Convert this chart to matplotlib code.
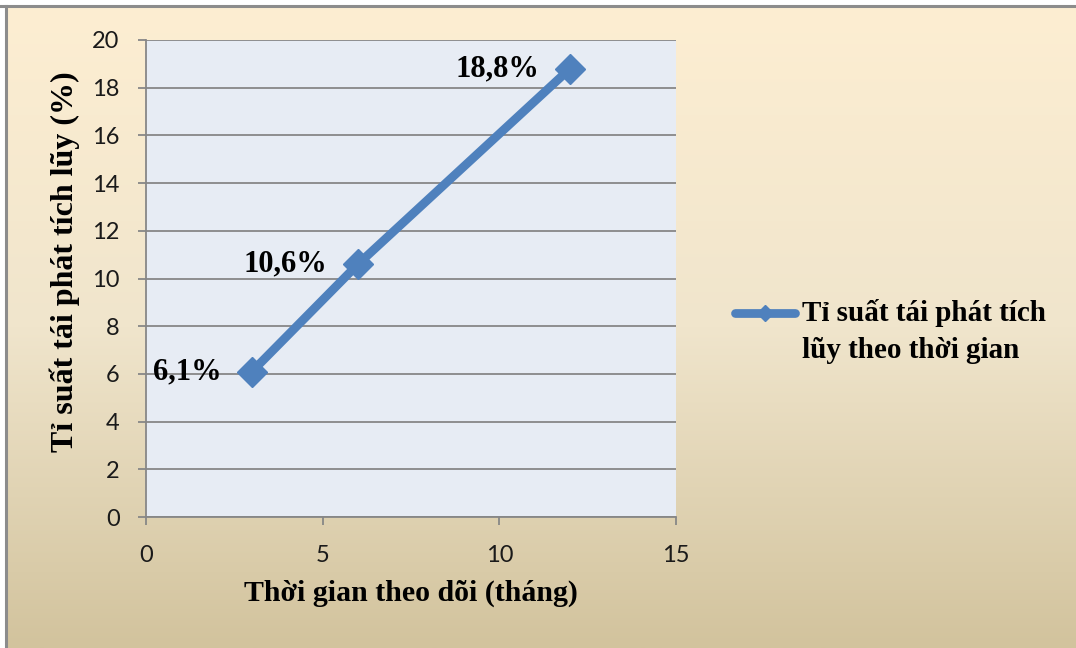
import numpy as np
import matplotlib
matplotlib.use("Agg")
import matplotlib.pyplot as plt
from matplotlib.colors import LinearSegmentedColormap

# Follow-up time (months) and cumulative recurrence rate (%)
months = [3, 6, 12]
rates = [6.1, 10.6, 18.8]
point_labels = ["6,1%", "10,6%", "18,8%"]
series_name = "Tỉ suất tái phát tích\nlũy theo thời gian"
x_ticks = [0, 5, 10, 15]
y_ticks = [0, 2, 4, 6, 8, 10, 12, 14, 16, 18, 20]

W, H = 1076, 648
fig = plt.figure(figsize=(W / 100, H / 100), dpi=100)
fig.patch.set_facecolor("white")

# Chart-area background: vertical cream-to-tan gradient with grey frame on top/left
bg = fig.add_axes([7 / W, 0, 1 - 7 / W, 1 - 7 / H])
grad = LinearSegmentedColormap.from_list("bg", ["#FDEED2", "#F0E5CC", "#D2C39D"])
bg.imshow(np.linspace(0, 1, 256).reshape(-1, 1), aspect="auto", cmap=grad,
          extent=[0, 1, 0, 1], origin="upper")
bg.set_axis_off()
fig.add_artist(plt.Line2D([0, 1], [1 - 6 / H, 1 - 6 / H], transform=fig.transFigure,
                          color="#8C8C8C", lw=2.2))
fig.add_artist(plt.Line2D([6 / W, 6 / W], [0, 1 - 6 / H], transform=fig.transFigure,
                          color="#8C8C8C", lw=2.2))

left, right, top, bottom = 146, 676, 40, 517
ax = fig.add_axes([left / W, 1 - bottom / H, (right - left) / W, (bottom - top) / H])
ax.set_facecolor("#E7ECF4")

serif = "Liberation Serif"
sans = "Lato"
blue = "#4F81BD"

ax.plot(months, rates, color=blue, lw=6.3, marker="D", markersize=15,
        markeredgecolor=blue, solid_capstyle="butt", zorder=3)

for x, y, lab in zip(months, rates, point_labels):
    ax.annotate(lab, (x, y), xytext=(-22, 0), textcoords="offset points",
                ha="right", va="center", fontsize=22, fontweight="bold",
                family=serif, color="black", zorder=4)

ax.set_xlim(0, 15)
ax.set_ylim(0, 20)
ax.set_xticks(x_ticks)
ax.set_yticks(y_ticks)
ax.yaxis.grid(True, color="#878787", lw=1.3)
ax.set_axisbelow(True)
for s in ["top", "right"]:
    ax.spines[s].set_visible(False)
for s in ["left", "bottom"]:
    ax.spines[s].set_color("#878787")
    ax.spines[s].set_linewidth(1.3)
ax.tick_params(axis="both", direction="out", length=6, width=1.3, color="#878787",
               labelsize=17, labelcolor="#1a1a1a")
ax.tick_params(axis="x", pad=14)
ax.tick_params(axis="y", pad=13)
for t in ax.get_xticklabels() + ax.get_yticklabels():
    t.set_family(sans)

ax.set_xlabel("Thời gian theo dõi (tháng)", family=serif, fontweight="bold",
              fontsize=21.5, labelpad=10)
ax.set_ylabel("Tỉ suất tái phát tích lũy (%)", family=serif, fontweight="bold",
              fontsize=23)
ax.yaxis.set_label_coords(-0.124, 0.535)

# Legend: series key aligned with the first line of a two-line label
key_y = 1 - 313 / H
fig.add_artist(plt.Line2D([735 / W, 765 / W, 795 / W], [key_y, key_y, key_y],
                          transform=fig.transFigure, color=blue, lw=6.3,
                          solid_capstyle="round", marker="D", markersize=8,
                          markevery=[1]))
fig.text(802 / W, 1 - 331.5 / H, series_name, ha="left", va="center",
         family=serif, fontweight="bold", fontsize=21, linespacing=1.48)

fig.savefig("out.png", dpi=100)
